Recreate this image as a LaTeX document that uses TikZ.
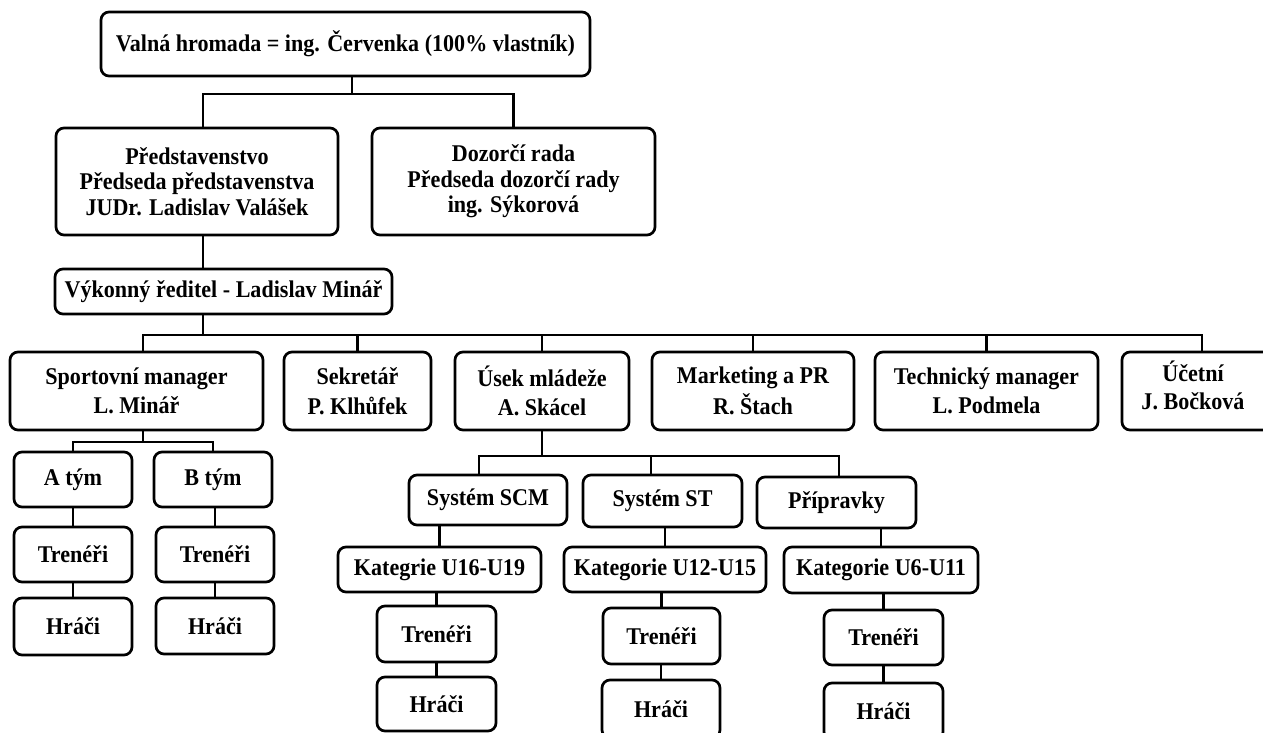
\documentclass[tikz,border=0pt]{standalone}
\usepackage{fontspec}
\setmainfont{Liberation Serif}[FakeStretch=0.92]
% box given by its outer corners (x1,y1) and (x2,y2), y growing downwards
\newcommand\orgnode[6]{%
  \node[orgbox, minimum width={(#4-#2)*1pt}, minimum height={(#5-#3)*1pt}]
    (#1) at ({(#2+#4)/2},{(#3+#5)/2}) {#6};}
\begin{document}
\begin{tikzpicture}[x=1pt,y=-1pt,
  orgbox/.style={draw, line width=2.7pt, rounded corners=8pt, inner sep=0pt,
    align=center, font=\bfseries\fontsize{24}{25.5}\selectfont},
  link/.style={line width=2.7pt}]
\useasboundingbox (0,0) rectangle (1263,733);
\clip (0,0) rectangle (1263,733);

% management
\orgnode{top}{101}{12}{590}{76}{Valná hromada = ing. Červenka (100\% vlastník)}
\orgnode{pred}{56}{128}{338}{235}{Představenstvo\\Předseda představenstva\\JUDr. Ladislav Valášek}
\orgnode{dozor}{372}{128}{655}{235}{Dozorčí rada\\Předseda dozorčí rady\\ing. Sýkorová}
\orgnode{vyk}{55}{269}{392}{314}{Výkonný ředitel - Ladislav Minář}

% departments
\orgnode{sport}{10}{352}{263}{430}{Sportovní manager\\[4pt]L. Minář}
\orgnode{sekr}{284}{352}{431}{430}{Sekretář\\[4pt]P. Klhůfek}
\orgnode{usek}{455}{352}{629}{430}{Úsek mládeže\\[4pt]A. Skácel}
\orgnode{mark}{652}{352}{854}{430}{Marketing a PR\\[4pt]R. Štach}
\orgnode{tech}{875}{352}{1098}{430}{Technický manager\\[3pt]L. Podmela}
\orgnode{acct}{1122}{352}{1282}{430}{Účetní\hspace*{18pt}\\[2pt]J. Bočková\rule[-12pt]{0pt}{0pt}\hspace*{18pt}}

% senior teams
\orgnode{ateam}{14}{452}{132}{507}{A tým}
\orgnode{bteam}{154}{452}{272}{507}{B tým}
\orgnode{atr}{14}{527}{132}{582}{Trenéři}
\orgnode{btr}{156}{527}{274}{582}{Trenéři}
\orgnode{ahr}{14}{598}{132}{655}{Hráči}
\orgnode{bhr}{156}{598}{274}{654}{Hráči}

% youth section
\orgnode{scm}{409}{475}{567}{525}{Systém SCM}
\orgnode{st}{583}{475}{742}{527}{Systém ST}
\orgnode{prip}{757}{477}{916}{528}{Přípravky}
\orgnode{k1}{338}{547}{541}{592}{Kategrie U16-U19}
\orgnode{k2}{564}{547}{766}{592}{Kategorie U12-U15}
\orgnode{k3}{784}{547}{978}{593}{Kategorie U6-U11}
\orgnode{t1}{377}{606}{496}{662}{Trenéři}
\orgnode{t2}{603}{608}{720}{664}{Trenéři}
\orgnode{t3}{824}{610}{943}{665}{Trenéři}
\orgnode{h1}{377}{677}{496}{731}{Hráči}
\orgnode{h2}{602}{680}{720}{738}{Hráči}
\orgnode{h3}{824}{683}{943}{740}{Hráči}

% junctions of the connector lines
\coordinate (j1) at (352,94);
\coordinate (px) at (203,0);
\coordinate (j2) at (203,335);
\coordinate (sx) at (143,0);
\coordinate (j3) at (143,442);
\coordinate (u1) at (479,456);
\coordinate (u2) at (651,456);
\coordinate (u3) at (839,456);

% upper levels
\draw[link] (top.south -| j1) -- (j1);
\draw[link] (pred.north -| px) |- (j1) -| (dozor.north);
\draw[link] (pred.south -| px) -- (vyk.north -| px);
\draw[link] (vyk.south -| j2) -- (j2);
\draw[link] (sport.north -| sx) |- (acct.north |- j2) -- (acct.north);
\foreach \n in {sekr,usek,mark,tech}
  \draw[link] (\n.north) -- (\n.north |- j2);

% senior teams
\draw[link] (sport.south -| sx) -- (j3);
\draw[link] (ateam.north) |- (j3) -| (bteam.north);
\draw[link] (ateam.south) -- (atr.north);
\draw[link] (atr.south) -- (ahr.north);
\draw[link] (btr.north |- bteam.south) -- (btr.north);
\draw[link] (btr.south) -- (bhr.north);

% youth section
\draw[link] (usek.south) -- (usek.south |- u1);
\draw[link] (scm.north -| u1) |- (u3) -- (prip.north -| u3);
\draw[link] (u2) -- (st.north -| u2);
\draw[link] (k1.north) -- (k1.north |- scm.south);
\draw[link] (k2.north) -- (k2.north |- st.south);
\draw[link] (k3.north) -- (k3.north |- prip.south);
\draw[link] (t1.north) -- (t1.north |- k1.south);
\draw[link] (t2.north) -- (t2.north |- k2.south);
\draw[link] (t3.north) -- (t3.north |- k3.south);
\draw[link] (h1.north) -- (h1.north |- t1.south);
\draw[link] (h2.north) -- (h2.north |- t2.south);
\draw[link] (h3.north) -- (h3.north |- t3.south);
\end{tikzpicture}
\end{document}
